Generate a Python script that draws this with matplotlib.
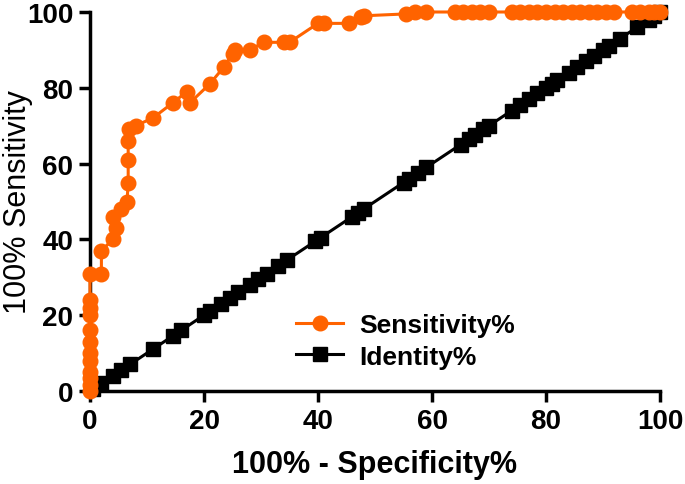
import matplotlib
matplotlib.use("Agg")
import matplotlib.pyplot as plt

plt.rcParams['font.family'] = ['Liberation Sans', 'DejaVu Sans']

# ROC curve
sens_x = [0, 0, 0, 0, 0, 0, 0, 0, 0, 0, 0, 0,
          2, 2, 4, 4.5, 4, 5.5, 6.5, 6.7, 6.7, 6.7, 6.8, 8, 11, 14.5, 17, 17.5,
          21, 23.5, 25, 25.5, 28, 30.5, 34, 35, 40, 41, 45.5, 47.5, 48,
          55.5, 57, 59, 64, 65.5, 67, 68.5, 70, 74, 75.5, 77, 78.5, 80, 81.5,
          83, 84.5, 86, 87.5, 89, 90.5, 92, 95, 96.5, 98, 99, 100]
sens_y = [0, 1.5, 3.5, 5, 8, 10, 13, 16, 20, 22, 24, 31,
          31, 37, 40, 43, 46, 48, 50, 55, 61, 66, 69, 70, 72, 76, 79, 76,
          81, 85.5, 89, 90, 90, 92, 92, 92, 97, 97, 97, 98.7, 99,
          99.5, 100, 100, 100, 100, 100, 100, 100, 100, 100, 100, 100, 100, 100,
          100, 100, 100, 100, 100, 100, 100, 100, 100, 100, 100, 100]

ident_x = [0.5, 2, 4, 5.5, 7, 11, 14.5, 16, 20, 21, 23, 24.5, 26, 28, 29.5,
           31, 33, 34.5, 39.5, 40.5, 46, 47, 48, 55, 56, 57.5, 59, 65, 66.5,
           67.5, 69, 70, 74, 75.5, 77, 78.5, 80, 81, 82, 84, 85.5, 87, 88.5,
           90, 91, 93, 96, 98, 99, 100]
ident_y = ident_x

x_ticks = [0, 20, 40, 60, 80, 100]
y_ticks = [0, 20, 40, 60, 80, 100]

orange = "#FF6300"

fig = plt.figure(figsize=(6.85, 4.85), dpi=100)
ax = fig.add_axes([90 / 685, 1 - 392 / 485, 570 / 685, 379 / 485])

ax.plot(ident_x, ident_y, color="black", lw=2.2, marker="s", ms=9.5,
        clip_on=False, zorder=3, label="Identity%")
ax.plot(sens_x, sens_y, color=orange, lw=2.2, marker="o", ms=10.5,
        mec=orange, clip_on=False, zorder=4, label="Sensitivity%")

ax.set_xlim(0, 100)
ax.set_ylim(0, 100)
ax.set_xticks(x_ticks)
ax.set_yticks(y_ticks)
ax.set_xticklabels([str(v) for v in x_ticks], fontsize=20, fontweight="bold")
ax.set_yticklabels([str(v) for v in y_ticks], fontsize=20, fontweight="bold")
ax.tick_params(width=2.5, length=8, pad=4)

for s in ["top", "right"]:
    ax.spines[s].set_visible(False)
for s in ["left", "bottom"]:
    ax.spines[s].set_linewidth(2.5)

ax.set_xlabel("100% - Specificity%", fontsize=22, fontweight="bold")
ax.xaxis.set_label_coords(0.5, -(465 - 392) / 379)
ax.xaxis.label.set_va("center")
ax.set_ylabel("100% Sensitivity", fontsize=22)
ax.yaxis.set_label_coords(-(90 - 18) / 570, 0.5)
ax.yaxis.label.set_va("center")

handles, labels = ax.get_legend_handles_labels()
leg = ax.legend(handles[::-1], labels[::-1], loc="upper left",
                bbox_to_anchor=(272 / 685, 1 - 290 / 485),
                bbox_transform=fig.transFigure, frameon=False,
                prop={"size": 19, "weight": "bold"}, handlelength=1.8,
                handletextpad=0.6, labelspacing=0.3)

fig.savefig("out.png", dpi=100)
